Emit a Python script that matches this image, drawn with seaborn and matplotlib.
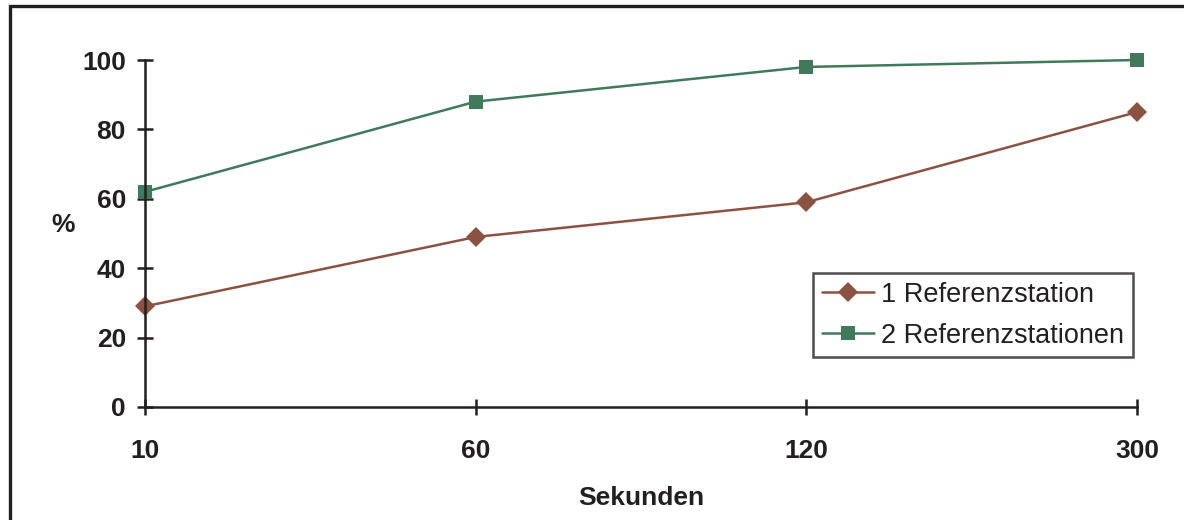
import matplotlib
matplotlib.use("Agg")
import matplotlib.pyplot as plt
from matplotlib.lines import Line2D
from matplotlib.patches import Rectangle
import seaborn as sns
import pandas as pd

# Measurement intervals (seconds) and percentages per configuration
seconds = ["10", "60", "120", "300"]
one_station = [29, 49, 59, 85]
two_stations = [62, 88, 98, 100]
series_names = ["1 Referenzstation", "2 Referenzstationen"]

brown = "#8C5241"
green = "#407A5A"
ink = "#231F20"

sns.set_theme(style="white")
plt.rcParams["font.family"] = ["Liberation Sans", "DejaVu Sans"]

rows = []
for name, vals in zip(series_names, [one_station, two_stations]):
    for i, v in enumerate(vals):
        rows.append({"pos": i, "Sekunden": seconds[i], "val": v, "series": name})
df = pd.DataFrame(rows)

fig = plt.figure(figsize=(11.84, 5.2), dpi=100)
ax = fig.add_axes([145 / 1184, 1 - 407 / 520, (1137 - 145) / 1184, (407 - 60) / 520])

sns.lineplot(
    data=df, x="pos", y="val", hue="series", style="series",
    palette=[brown, green], markers=["D", "s"], dashes=False,
    markersize=10.5, linewidth=1.8, markeredgewidth=0, ax=ax, legend=False,
)

ax.set_xlim(0, 3)
ax.set_ylim(0, 100)
ax.set_xticks(range(len(seconds)))
ax.set_xticklabels(seconds)
ax.set_yticks([0, 20, 40, 60, 80, 100])

for side in ["top", "right"]:
    ax.spines[side].set_visible(False)
for side in ["left", "bottom"]:
    ax.spines[side].set_color(ink)
    ax.spines[side].set_linewidth(1.8)
    ax.spines[side].set_visible(True)
for ln in ax.lines:
    ln.set_clip_on(False)

ax.tick_params(axis="both", direction="inout", length=11.5, width=1.8, color=ink,
               labelsize=19, labelcolor=ink, left=True, bottom=True)
ax.tick_params(axis="y", pad=8)
ax.tick_params(axis="x", pad=17)
for lab in ax.get_xticklabels() + ax.get_yticklabels():
    lab.set_fontweight("bold")

ax.set_xlabel("Sekunden", fontsize=19, fontweight="bold", color=ink, labelpad=17)
ax.set_ylabel("%", fontsize=19, fontweight="bold", color=ink, rotation=0,
              labelpad=0)
ax.yaxis.set_label_coords(-0.083, 0.49)
ax.grid(False)

handles = [
    Line2D([], [], color=brown, marker="D", markersize=10.5, markeredgewidth=0, linewidth=1.8),
    Line2D([], [], color=green, marker="s", markersize=10.5, markeredgewidth=0, linewidth=1.8),
]
leg = ax.legend(handles, series_names, loc="upper left",
                bbox_to_anchor=((813 - 145) / 992, 1 - (273 - 60) / 347),
                fontsize=19.5, frameon=True, fancybox=False, handlelength=1.95,
                handletextpad=0.25, borderpad=0.32, labelspacing=0.55,
                borderaxespad=0)
leg.get_frame().set_edgecolor(ink)
leg.get_frame().set_linewidth(1.8)
for t in leg.get_texts():
    t.set_color(ink)

# frame around the figure
fig.patches.append(Rectangle((9.5 / 1184, -0.2), 1.3, 1.2 - 5.5 / 520,
                             transform=fig.transFigure, fill=False,
                             edgecolor=ink, linewidth=2.4))

fig.savefig("out.png", dpi=100)
